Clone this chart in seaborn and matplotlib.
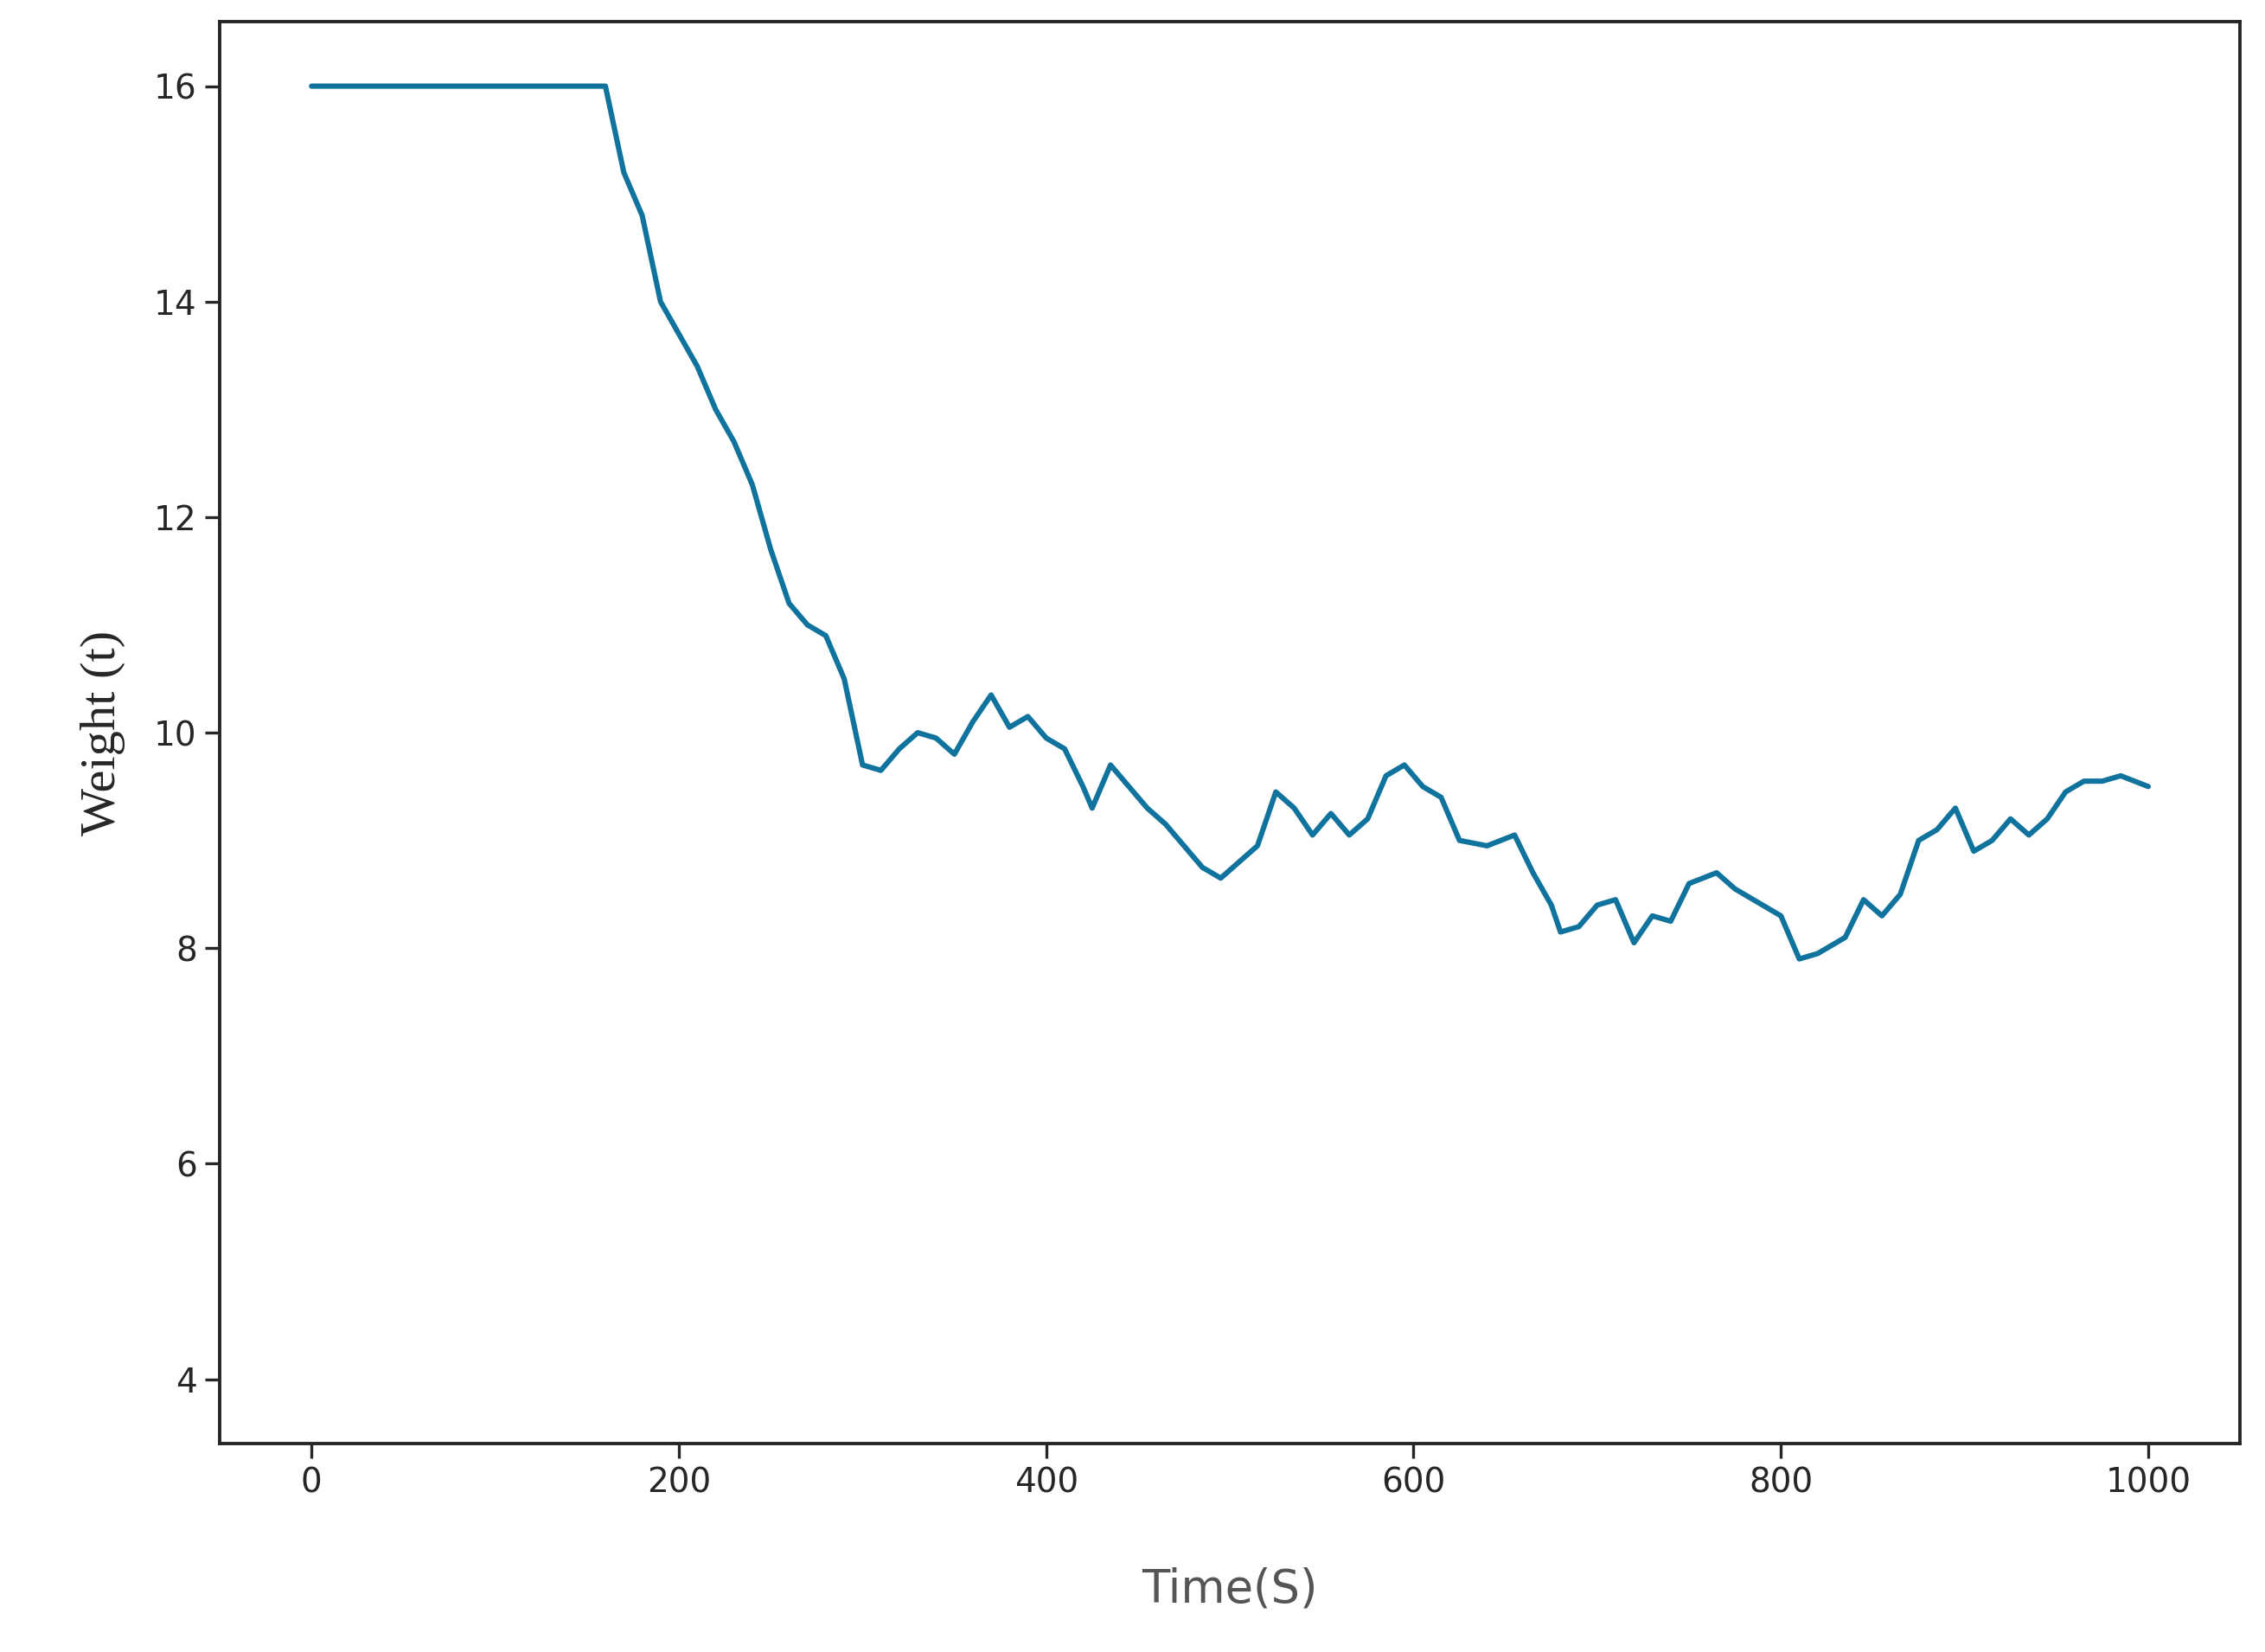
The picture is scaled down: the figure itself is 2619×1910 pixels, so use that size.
import matplotlib
matplotlib.use('Agg')
import matplotlib.pyplot as plt
import seaborn as sns
import pandas as pd

time_s = [0, 40, 80, 120, 160, 165, 170, 180, 190, 200, 210, 220, 230, 240, 250, 260, 270, 280, 290,
          300, 310, 320, 330, 340, 350, 360, 370, 380, 390, 400, 410, 420, 425, 435, 445, 455, 465,
          475, 485, 495, 505, 515, 525, 535, 545, 555, 565, 575, 585, 595, 605, 615, 625, 640, 655,
          665, 675, 680, 690, 700, 710, 720, 730, 740, 750, 765, 775, 790, 800, 810, 820, 835, 845,
          855, 865, 875, 885, 895, 905, 915, 925, 935, 945, 955, 965, 975, 985, 1000]
weight_t = [16.0, 16.0, 16.0, 16.0, 16.0, 15.6, 15.2, 14.8, 14.0, 13.7, 13.4, 13.0, 12.7, 12.3, 11.7,
            11.2, 11.0, 10.9, 10.5, 9.7, 9.65, 9.85, 10.0, 9.95, 9.8, 10.1, 10.35, 10.05, 10.15, 9.95,
            9.85, 9.5, 9.3, 9.7, 9.5, 9.3, 9.15, 8.95, 8.75, 8.65, 8.8, 8.95, 9.45, 9.3, 9.05, 9.25,
            9.05, 9.2, 9.6, 9.7, 9.5, 9.4, 9.0, 8.95, 9.05, 8.7, 8.4, 8.15, 8.2, 8.4, 8.45, 8.05, 8.3,
            8.25, 8.6, 8.7, 8.55, 8.4, 8.3, 7.9, 7.95, 8.1, 8.45, 8.3, 8.5, 9.0, 9.1, 9.3, 8.9, 9.0,
            9.2, 9.05, 9.2, 9.45, 9.55, 9.55, 9.6, 9.5]

df = pd.DataFrame({"Time": time_s, "Weight": weight_t})

sns.set_style("ticks")
fig, ax = plt.subplots(figsize=(13.095, 9.55), dpi=200)
fig.subplots_adjust(left=0.097, right=0.994 - 0.005, top=0.987, bottom=0.126)

sns.lineplot(data=df, x="Time", y="Weight", color="#10739E", linewidth=2.2, ax=ax)
ax.set_xlim(-50, 1050)
ax.set_ylim(3.4, 16.6)
ax.set_xticks([0, 200, 400, 600, 800, 1000])
ax.set_yticks([4, 6, 8, 10, 12, 14, 16])
ax.tick_params(axis="both", labelsize=14, length=6, width=1.2)
for s in ax.spines.values():
    s.set_linewidth(1.4)
ax.set_xlabel("Time(S)", fontsize=19, color="#555555", labelpad=28)
ax.set_ylabel("Weight (t)", fontsize=21, family="Liberation Serif", labelpad=12)

plt.savefig("out.png", dpi=200)
